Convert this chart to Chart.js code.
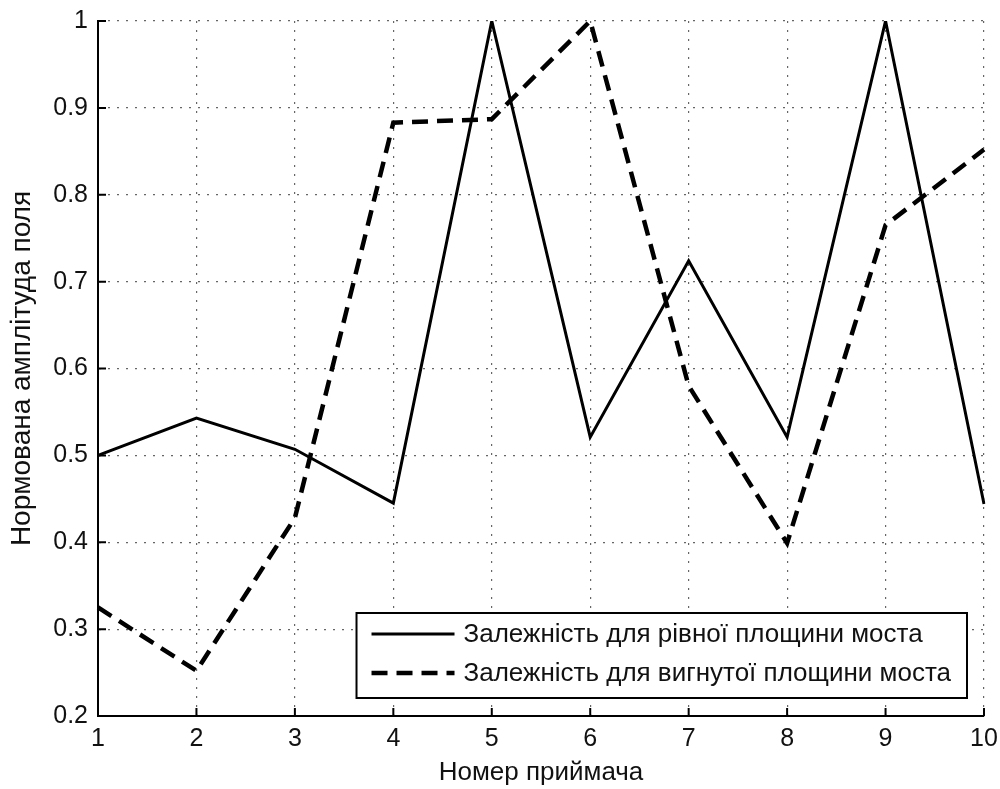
<!DOCTYPE html>
<html>
<head>
<meta charset="utf-8">
<script src="https://cdn.jsdelivr.net/npm/chart.js@4.4.0/dist/chart.umd.min.js"></script>
<style>
  html, body { margin: 0; padding: 0; background: #fff; }
  #wrap { width: 1000px; height: 789px; position: relative; }
</style>
</head>
<body>
<div id="wrap"><canvas id="c" width="1000" height="789"></canvas></div>
<script>
// ---- data ----
const categories = ['1', '2', '3', '4', '5', '6', '7', '8', '9', '10'];
const flatBridge = [0.500, 0.543, 0.507, 0.445, 1.000, 0.521, 0.724, 0.521, 1.000, 0.444];
const curvedBridge = [0.325, 0.252, 0.428, 0.883, 0.887, 1.000, 0.580, 0.399, 0.765, 0.852];
const seriesNames = ['Залежність для рівної площини моста', 'Залежність для вигнутої площини моста'];
const yTickLabels = ['0.2', '0.3', '0.4', '0.5', '0.6', '0.7', '0.8', '0.9', '1'];
const xTitle = 'Номер приймача';
const yTitle = 'Нормована амплітуда поля';

const FONT = "'Liberation Sans', Arial, sans-serif";

const inwardTicks = {
  id: 'inwardTicks',
  afterDatasetsDraw(chart) {
    const {ctx, chartArea} = chart;
    const x = chart.scales.x, y = chart.scales.y;
    ctx.save();
    ctx.strokeStyle = '#000';
    ctx.lineWidth = 2;
    ctx.beginPath();
    x.ticks.forEach((t, i) => {
      const px = x.getPixelForTick(i);
      ctx.moveTo(px, chartArea.bottom);
      ctx.lineTo(px, chartArea.bottom - 8);
    });
    y.ticks.forEach((t, i) => {
      const py = y.getPixelForTick(i);
      ctx.moveTo(chartArea.left, py);
      ctx.lineTo(chartArea.left + 8, py);
    });
    ctx.stroke();
    ctx.restore();
  }
};

const boxLegend = {
  id: 'boxLegend',
  afterDraw(chart) {
    const {ctx, chartArea} = chart;
    ctx.save();
    ctx.font = '26px ' + FONT;
    const texts = chart.data.datasets.map(d => d.label);
    const tw = Math.max(...texts.map(t => ctx.measureText(t).width));
    const lineLen = 83, gap = 9, padL = 15, padR = 16;
    const w = padL + lineLen + gap + tw + padR;
    const h = 85;
    const right = chartArea.right - 17;
    const bottom = chartArea.bottom - 18;
    const left = right - w, top = bottom - h;
    ctx.fillStyle = '#fff';
    ctx.fillRect(left, top, w, h);
    ctx.strokeStyle = '#000';
    ctx.lineWidth = 2;
    ctx.strokeRect(left, top, w, h);
    const rows = [top + 21, top + 60];
    chart.data.datasets.forEach((d, i) => {
      ctx.beginPath();
      ctx.setLineDash(d.borderDash || []);
      ctx.lineWidth = d.borderWidth;
      ctx.strokeStyle = d.borderColor;
      ctx.moveTo(left + padL, rows[i]);
      ctx.lineTo(left + padL + lineLen, rows[i]);
      ctx.stroke();
      ctx.setLineDash([]);
      ctx.fillStyle = '#111';
      ctx.textBaseline = 'middle';
      ctx.textAlign = 'left';
      ctx.fillText(d.label, left + padL + lineLen + gap, rows[i] + 1);
    });
    ctx.restore();
  }
};

new Chart(document.getElementById('c'), {
  type: 'line',
  data: {
    labels: categories,
    datasets: [
      { label: seriesNames[0], data: flatBridge, borderColor: '#000', borderWidth: 3,
        pointRadius: 0, tension: 0, fill: false },
      { label: seriesNames[1], data: curvedBridge, borderColor: '#000', borderWidth: 4.5,
        borderDash: [16, 9], pointRadius: 0, tension: 0, fill: false }
    ]
  },
  options: {
    responsive: false,
    animation: false,
    devicePixelRatio: 1,
    layout: { padding: { left: 0, right: 16, top: 21, bottom: 0 } },
    plugins: { legend: { display: false }, tooltip: { enabled: false } },
    scales: {
      x: {
        offset: false,
        grid: { display: true, drawTicks: false, color: '#666', lineWidth: 1.2,
                drawOnChartArea: true },
        border: { display: true, color: '#000', width: 2, dash: [2, 7] },
        ticks: { color: '#111', font: { family: FONT, size: 25 }, padding: 8,
                 maxRotation: 0, autoSkip: false },
        title: { display: true, text: xTitle, color: '#111',
                 font: { family: FONT, size: 26, lineHeight: 1.2 },
                 padding: { top: 0, bottom: 1 } },
        afterFit(s) { s.height = 73; s.paddingLeft = 0; s.paddingRight = 0; }
      },
      y: {
        min: 0.2, max: 1,
        grid: { display: true, drawTicks: false, color: '#666', lineWidth: 1.2 },
        border: { display: true, color: '#000', width: 2, dash: [2, 7] },
        ticks: { stepSize: 0.1, color: '#111', font: { family: FONT, size: 25 }, padding: 10,
                 callback: (v, i) => yTickLabels[i] },
        title: { display: true, text: yTitle, color: '#111',
                 font: { family: FONT, size: 28, lineHeight: 1.2 },
                 padding: { top: 5, bottom: 0 } },
        afterFit(s) { s.width = 98; s.paddingTop = 0; s.paddingBottom = 0; }
      }
    }
  },
  plugins: [inwardTicks, boxLegend]
});
</script>
</body>
</html>
